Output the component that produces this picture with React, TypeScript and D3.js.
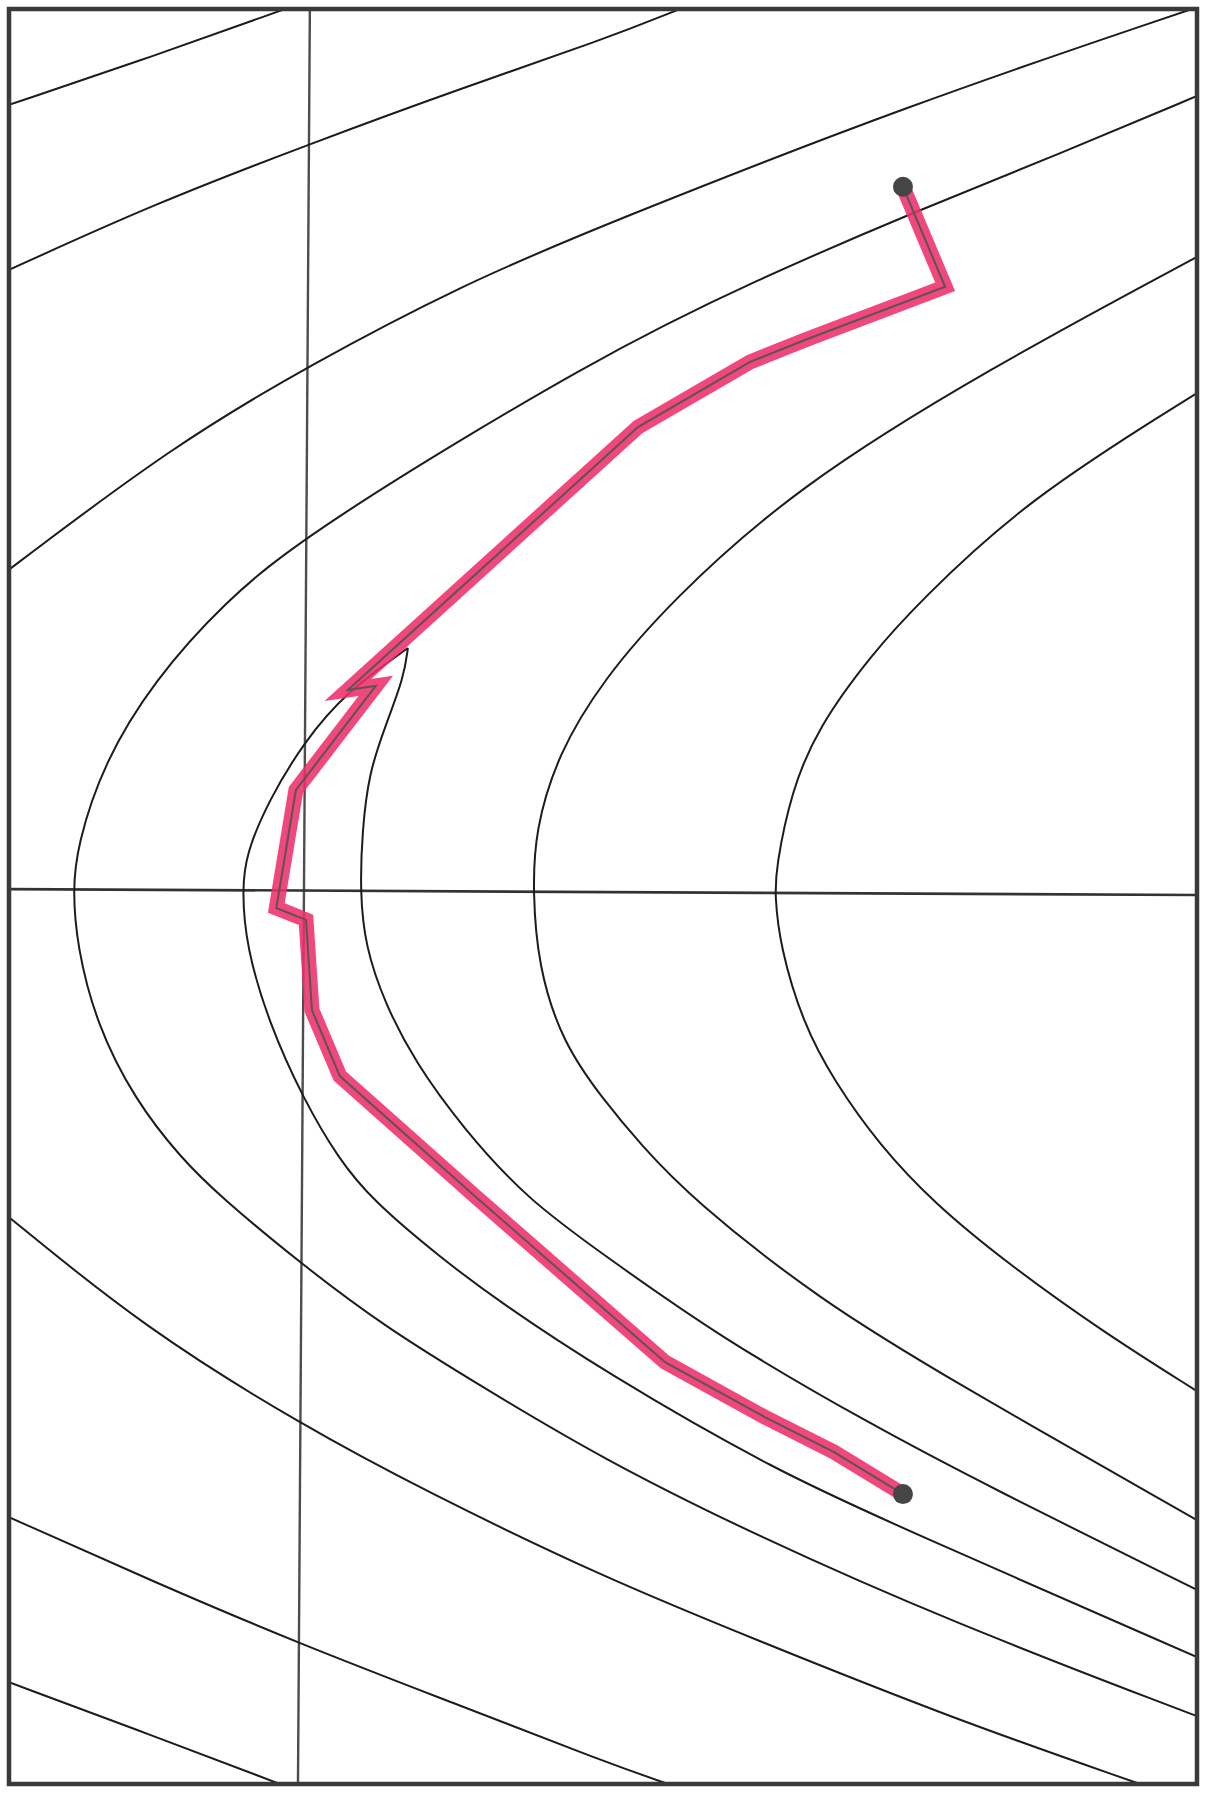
import React from "react";
import * as d3 from "d3";

type P = [number, number];

// Contour curves (x, y in plot units; x ∈ [-1,3], y ∈ [-3,3])
const contourA: P[] = [[-1.0, 2.676], [-0.512, 2.841], [-0.071, 3.0]];
const contourB: P[] = [[-1.0, 2.118], [-0.512, 2.341], [0.013, 2.544], [0.525, 2.733], [1.0, 2.896], [1.259, 3.0]];
const contourC: P[] = [[-1.0, 1.105], [-0.448, 1.523], [0.013, 1.797], [0.525, 2.067], [1.0, 2.27], [2.037, 2.679], [2.983, 3.0]];
const contourD: P[] = [
  [3.0, 2.706], [2.556, 2.518], [2.037, 2.31], [1.519, 2.085], [0.99, 1.83], [0.013, 1.236],
  [-0.279, 0.992], [-0.512, 0.729], [-0.68, 0.455], [-0.771, 0.171], [-0.785, 0.019], [-0.771, -0.167],
  [-0.707, -0.428], [-0.576, -0.688], [-0.421, -0.884], [-0.29, -1.013], [-0.02, -1.239], [0.266, -1.455],
  [0.589, -1.655], [1.0, -1.902], [1.519, -2.162], [2.165, -2.449], [2.97, -2.76], [3.0, -2.77],
];
const contourE: P[] = [
  [3.0, 2.162], [2.296, 1.783], [1.646, 1.381], [1.226, 0.996], [1.0, 0.732], [0.848, 0.482],
  [0.771, 0.221], [0.764, 0.015], [0.781, -0.232], [0.862, -0.492], [1.0, -0.686], [1.128, -0.84],
  [1.3, -1.023], [1.724, -1.36], [2.165, -1.631], [3.0, -2.108],
];
const contourF: P[] = [
  [3.0, 1.702], [2.424, 1.34], [2.061, 0.992], [1.906, 0.82], [1.724, 0.573], [1.633, 0.353],
  [1.582, 0.093], [1.579, 0.002], [1.596, -0.167], [1.673, -0.428], [1.778, -0.624], [1.933, -0.843],
  [2.114, -1.036], [2.36, -1.239], [2.684, -1.472], [3.0, -1.672],
];
const contourGLeft: P[] = [
  [0.343, 0.84], [0.135, 0.691], [-0.007, 0.522], [-0.125, 0.326], [-0.202, 0.144], [-0.215, 0.022],
  [-0.202, -0.167], [-0.125, -0.428], [-0.007, -0.688], [0.108, -0.884], [0.222, -1.026], [0.458, -1.225],
  [0.653, -1.371], [1.0, -1.604], [1.582, -1.942], [2.037, -2.148], [3.0, -2.571],
];
const contourGRight: P[] = [
  [0.343, 0.84], [0.33, 0.742], [0.266, 0.573], [0.212, 0.418], [0.189, 0.221], [0.182, 0.015],
  [0.199, -0.167], [0.266, -0.363], [0.367, -0.559], [0.525, -0.779], [0.747, -1.026], [1.0, -1.209],
  [1.387, -1.486], [1.906, -1.787], [2.296, -1.993], [3.0, -2.344],
];
const contourJ: P[] = [[-1.0, -1.084], [-0.539, -1.462], [-0.013, -1.787], [0.394, -2.006], [1.0, -2.301], [1.519, -2.514], [2.165, -2.774], [2.808, -3.0]];
const contourK: P[] = [[-1.0, -2.098], [-0.512, -2.317], [-0.02, -2.527], [0.525, -2.737], [1.0, -2.923], [1.219, -3.0]];
const contourL: P[] = [[-1.0, -2.656], [-0.512, -2.838], [-0.088, -3.0]];

const contours: P[][] = [contourA, contourB, contourC, contourD, contourE, contourF, contourGLeft, contourGRight, contourJ, contourK, contourL];

// Axis lines (as drawn, slightly skewed by the scan)
const axisVertical: P[] = [[0.013, 3.0], [-0.027, -3.0]];
const axisHorizontal: P[] = [[-1.0, 0.025], [3.0, 0.005]];

// Search path
const pathPoints: P[] = [
  [2.01, 2.399], [2.152, 2.061], [1.68, 1.881], [1.495, 1.807], [1.118, 1.587], [0.283, 0.827],
  [0.141, 0.698], [0.235, 0.712], [-0.034, 0.36], [-0.1, -0.039], [0.0, -0.079], [0.02, -0.384],
  [0.114, -0.607], [0.569, -1.013], [1.209, -1.574], [1.545, -1.76], [1.778, -1.878], [2.01, -2.02],
];
const endPoints: P[] = [pathPoints[0], pathPoints[pathPoints.length - 1]];

const X_DOMAIN: [number, number] = [-1, 3];
const Y_DOMAIN: [number, number] = [3, -3];

export default function App() {
  const W = 1206, H = 1794;
  const left = 9, right = 1197, top = 9, bottom = 1784;
  const x = d3.scaleLinear().domain(X_DOMAIN).range([left, right]);
  const y = d3.scaleLinear().domain(Y_DOMAIN).range([top, bottom]);

  const smooth = d3.line<P>().x(d => x(d[0])).y(d => y(d[1])).curve(d3.curveBasis);
  const straight = d3.line<P>().x(d => x(d[0])).y(d => y(d[1]));

  return (
    <svg width={W} height={H} style={{ position: "absolute", left: 0, top: 0, background: "#fff" }}>
      <defs>
        <clipPath id="plotClip">
          <rect x={left} y={top} width={right - left} height={bottom - top} />
        </clipPath>
      </defs>
      <rect x={0} y={0} width={W} height={H} fill="#ffffff" />
      <g clipPath="url(#plotClip)">
        <path d={straight(axisVertical) || ""} stroke="#4d4d4d" strokeWidth={2.4} fill="none" />
        <path d={straight(axisHorizontal) || ""} stroke="#333" strokeWidth={2.6} fill="none" />
        {contours.map((c, i) => (
          <path key={i} d={smooth(c) || ""} stroke="#1c1c1c" strokeWidth={2} fill="none" />
        ))}
        <path d={straight(pathPoints) || ""} stroke="#ee2d6b" strokeOpacity={0.88} strokeWidth={15}
          strokeLinejoin="miter" strokeLinecap="butt" fill="none" />
        <path d={straight(pathPoints) || ""} stroke="#5a5458" strokeWidth={2} strokeLinejoin="miter" fill="none" />
        {endPoints.map((p, i) => (
          <circle key={i} cx={x(p[0])} cy={y(p[1])} r={10} fill="#454545" />
        ))}
      </g>
      <rect x={left} y={top} width={right - left} height={bottom - top} fill="none" stroke="#3a3a3a" strokeWidth={4.5} />
    </svg>
  );
}
